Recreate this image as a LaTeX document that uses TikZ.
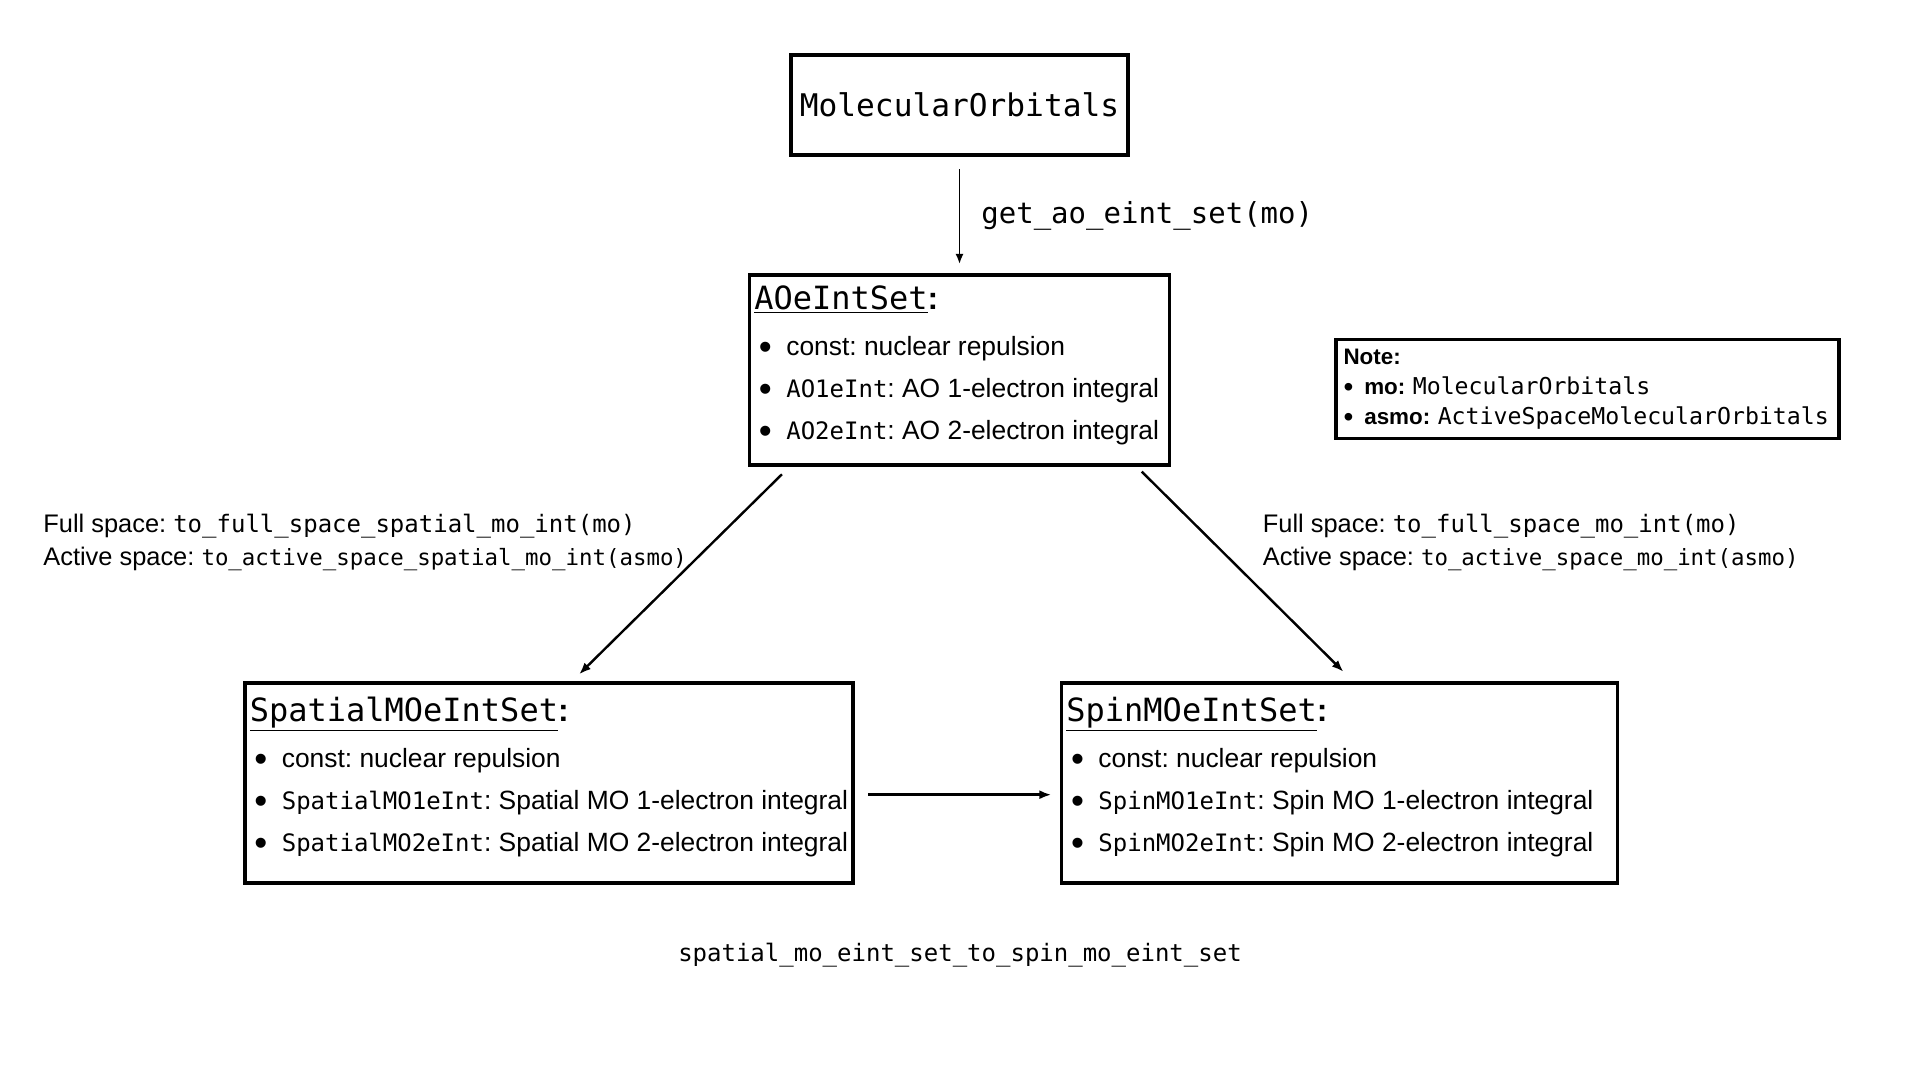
\documentclass[tikz,border=0pt]{standalone}
\usepackage{fontspec}
\usepackage{graphicx}
\setmainfont{Liberation Sans}
\setmonofont{DejaVu Sans Mono}
\usetikzlibrary{positioning,arrows.meta}

\newcommand{\cd}[2]{{\fontsize{#1}{#1}\selectfont\ttfamily #2}}
\newcommand{\bigdot}[2]{\raisebox{#2}{\scalebox{#1}{\textbullet}}}
\newcommand{\itm}{\hspace*{2.3pt}\makebox[13.7pt][l]{\bigdot{1.4}{-2.1pt}}}
\newcommand{\hd}[1]{\cd{16}{\underline{#1}}{\fontsize{16}{18}\selectfont\bfseries:}}

\tikzset{
  setbox/.style={draw, line width=1.6pt, inner sep=0pt},
  itemlist/.style={anchor=north west, inner sep=0pt, align=left, font=\fontsize{13.2}{21}\selectfont},
  conn/.style={line width=1.2pt, -{Latex[length=6pt,width=4.5pt]}},
}

\begin{document}
\frenchspacing
\begin{tikzpicture}[x=0.5pt,y=-0.5pt]
    \useasboundingbox (0,0) rectangle (1920,1080);

    % Top: the orbitals
    \node[setbox, minimum width=168.5pt, minimum height=50pt, font=\fontsize{15.6}{18}\selectfont\ttfamily] (mo) at (959.5,105) {MolecularOrbitals};

    % AO integral set
    \node[setbox, minimum width=210pt, minimum height=95pt] (ao) at (959.5,370) {};
    \node[itemlist] (aotext) at ([xshift=3pt,yshift=-6pt]ao.north west) {\hd{AOeIntSet}\\[2pt]
        \itm const: nuclear repulsion\\
        \itm \cd{12}{AO1eInt}: AO 1-electron integral\\
        \itm \cd{12}{AO2eInt}: AO 2-electron integral};

    % Spatial MO integral set
    \node[setbox, minimum width=304pt, minimum height=100pt] (spatial) at (549,783) {};
    \node[itemlist] (spatialtext) at ([xshift=3pt,yshift=-7.5pt]spatial.north west) {\hd{SpatialMOeIntSet}\\[2pt]
        \itm const: nuclear repulsion\\
        \itm \cd{12}{SpatialMO1eInt}: Spatial MO 1-electron integral\\
        \itm \cd{12}{SpatialMO2eInt}: Spatial MO 2-electron integral};

    % Spin MO integral set
    \node[setbox, minimum width=278pt, minimum height=100pt] (spin) at (1339.6,783) {};
    \node[itemlist] (spintext) at ([xshift=3pt,yshift=-7.5pt]spin.north west) {\hd{SpinMOeIntSet}\\[2pt]
        \itm const: nuclear repulsion\\
        \itm \cd{12}{SpinMO1eInt}: Spin MO 1-electron integral\\
        \itm \cd{12}{SpinMO2eInt}: Spin MO 2-electron integral};

    % Note
    \node[setbox, minimum width=251.5pt, minimum height=49.5pt, text width=244pt, align=left, font=\fontsize{11.2}{15}\selectfont] (note) at (1587.5,389) {\textbf{Note:}\\
        \bigdot{1.25}{-1.2pt}\hspace{5.5pt}\textbf{mo:} \cd{11.6}{MolecularOrbitals}\\
        \bigdot{1.25}{-1.2pt}\hspace{5.5pt}\textbf{asmo:} \cd{11.6}{ActiveSpaceMolecularOrbitals}};

    % Connectors
    \draw[line width=0.8pt, -{Latex[length=5pt,width=4pt]}, shorten <=6.25pt, shorten >=4.75pt] (mo) -- (ao);
    \draw[conn] ([xshift=17pt,yshift=-3.85pt]ao.south west) -- ([xshift=15pt,yshift=3.5pt]spatial.north);
    \draw[conn] ([xshift=-14.7pt,yshift=-2.5pt]ao.south east) -- ([xshift=2pt,yshift=4.75pt]spin.north);
    \draw[conn, line width=1.4pt] ([xshift=6.75pt,yshift=-5.85pt]spatial.east) -- ([xshift=-4.3pt,yshift=-5.85pt]spin.west);

    % Labels
    \node[anchor=west, inner sep=0pt, font=\fontsize{14.5}{17}\selectfont\ttfamily] (getaolbl) at (981,215.5) {get\_ao\_eint\_set(mo)};
    \node[anchor=west, align=left, inner sep=0pt, font=\fontsize{12.7}{16.5}\selectfont] (spatiallbl) at (43,542) {Full space: \cd{12}{to\_full\_space\_spatial\_mo\_int(mo)}\\
        Active space: \cd{11.2}{to\_active\_space\_spatial\_mo\_int(asmo)}};
    \node[anchor=west, align=left, inner sep=0pt, font=\fontsize{12.7}{16.5}\selectfont] (spinlbl) at (1262.5,542) {Full space: \cd{12}{to\_full\_space\_mo\_int(mo)}\\
        Active space: \cd{11.2}{to\_active\_space\_mo\_int(asmo)}};
    \node[inner sep=0pt, font=\fontsize{12}{15}\selectfont\ttfamily] (convlbl) at (960,955) {spatial\_mo\_eint\_set\_to\_spin\_mo\_eint\_set};

\end{tikzpicture}
\end{document}
